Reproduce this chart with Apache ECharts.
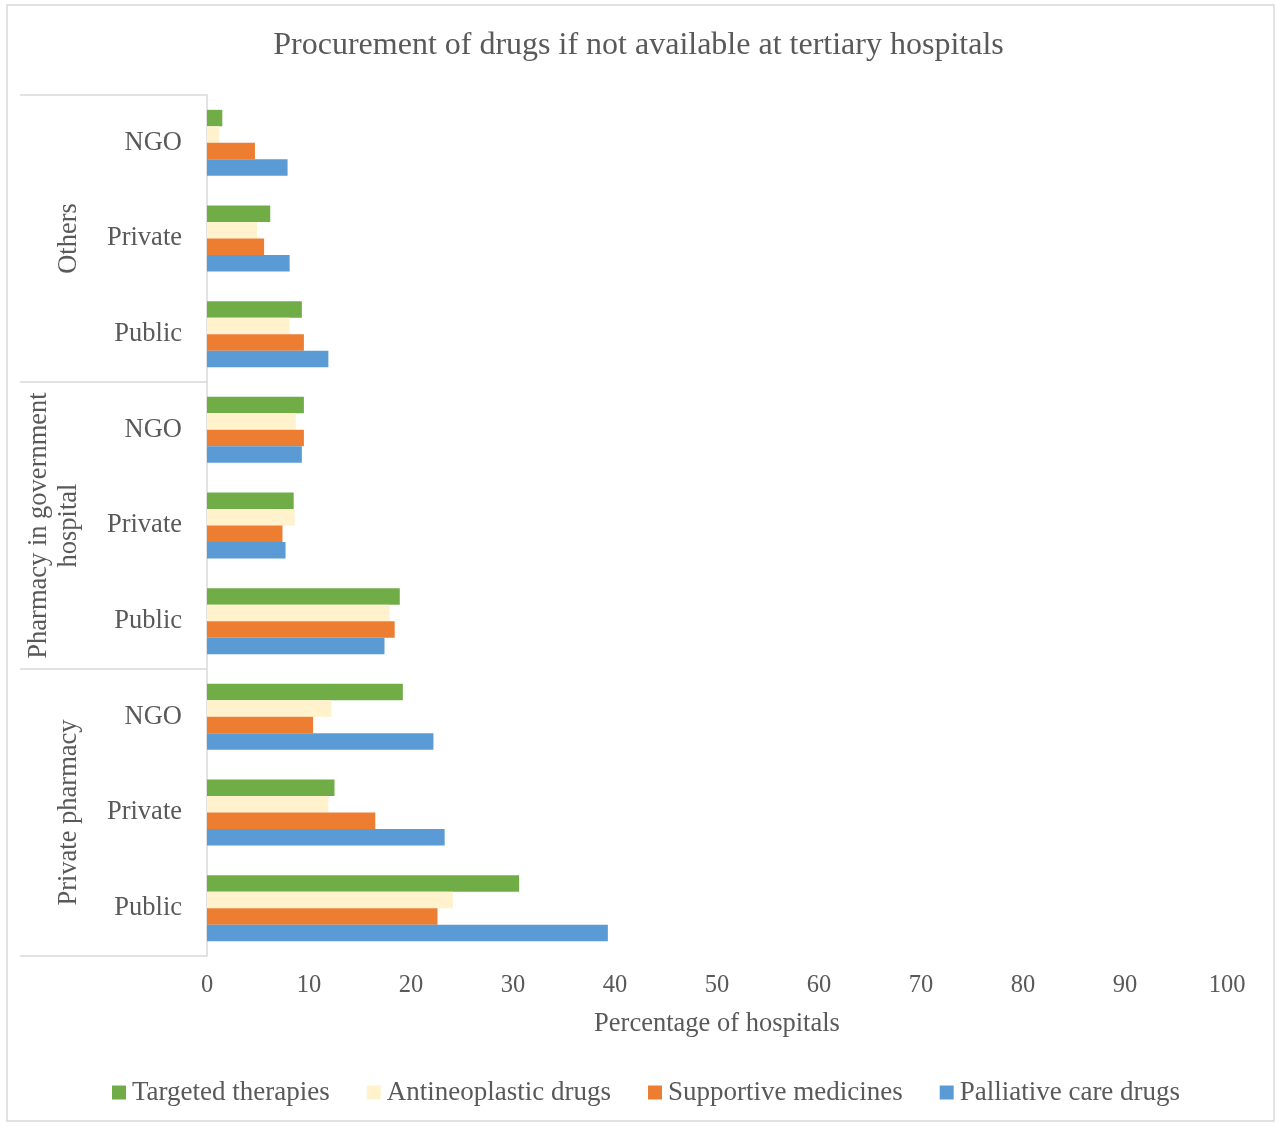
<!DOCTYPE html>
<html>
<head>
<meta charset="utf-8">
<script src="https://cdn.jsdelivr.net/npm/echarts@6/dist/echarts.min.js"></script>
<style>
html,body{margin:0;padding:0;background:#fff;}
#chart{width:1277px;height:1126px;}
</style>
</head>
<body>
<div id="chart"></div>
<script>
// Categories listed bottom to top
const subCategories = ['Public', 'Private', 'NGO', 'Public', 'Private', 'NGO', 'Public', 'Private', 'NGO'];
const groupCategories = ['Private pharmacy', 'Pharmacy in government\nhospital', 'Others'];
// Series listed in legend order (top bar to bottom bar within each category)
const seriesNames = ['Targeted therapies', 'Antineoplastic drugs', 'Supportive medicines', 'Palliative care drugs'];
const targeted = [30.6, 12.5, 19.2, 18.9, 8.5, 9.5, 9.3, 6.2, 1.5];
const antineoplastic = [24.1, 11.9, 12.2, 17.9, 8.6, 8.7, 8.1, 4.9, 1.2];
const supportive = [22.6, 16.5, 10.4, 18.4, 7.4, 9.5, 9.5, 5.6, 4.7];
const palliative = [39.3, 23.3, 22.2, 17.4, 7.7, 9.3, 11.9, 8.1, 7.9];
const xTicks = [0, 10, 20, 30, 40, 50, 60, 70, 80, 90, 100];

const FONT = 'Liberation Serif';
const TXT = '#595959';
const LINE = '#D9D9D9';
const colors = ['#70AD47', '#FFF2CC', '#ED7D31', '#5B9BD5'];
const values = [targeted, antineoplastic, supportive, palliative];

const chart = echarts.init(document.getElementById('chart'), null, {renderer: 'canvas'});
chart.setOption({
  animation: false,
  backgroundColor: '#fff',
  textStyle: {fontFamily: FONT, color: TXT},
  title: {
    text: 'Procurement of drugs if not available at tertiary hospitals',
    left: 'center',
    top: 25,
    textStyle: {fontFamily: FONT, fontSize: 32, fontWeight: 'normal', color: TXT}
  },
  graphic: [{
    type: 'rect',
    shape: {x: 7, y: 5, width: 1267, height: 1116},
    style: {fill: 'none', stroke: LINE, lineWidth: 1.5},
    silent: true
  }],
  legend: {
    data: seriesNames,
    bottom: 15,
    left: 107,
    itemWidth: 14,
    itemHeight: 14,
    itemGap: 37,
    icon: 'rect',
    textStyle: {fontFamily: FONT, fontSize: 27, color: TXT, padding: [0, 0, 0, 1]}
  },
  grid: {left: 207, right: 50, top: 95, bottom: 170, containLabel: false},
  xAxis: {
    type: 'value',
    min: xTicks[0],
    max: xTicks[xTicks.length - 1],
    interval: 10,
    name: 'Percentage of hospitals',
    nameLocation: 'middle',
    nameGap: 55,
    nameTextStyle: {fontFamily: FONT, fontSize: 26.5, color: TXT},
    axisLine: {show: false},
    axisTick: {show: false},
    splitLine: {show: false},
    axisLabel: {fontFamily: FONT, fontSize: 24.5, color: TXT, margin: 17}
  },
  yAxis: [{
    type: 'category',
    data: subCategories,
    position: 'left',
    axisLine: {show: true, lineStyle: {color: LINE, width: 1.5}},
    axisTick: {show: false},
    axisLabel: {fontFamily: FONT, fontSize: 26.5, color: TXT, margin: 25, interval: 0}
  }, {
    type: 'category',
    data: groupCategories,
    position: 'left',
    offset: 0,
    axisLine: {show: false},
    axisTick: {show: true, length: 187, lineStyle: {color: LINE, width: 1.5}},
    axisLabel: {
      fontFamily: FONT, fontSize: 26.5, color: TXT, interval: 0,
      rotate: 90, margin: 123, align: 'center', verticalAlign: 'bottom', lineHeight: 30
    }
  }],
  series: seriesNames.map((n, i) => ({
    name: n,
    type: 'bar',
    yAxisIndex: 0,
    data: values[i],
    barGap: '0%',
    barCategoryGap: '31%',
    itemStyle: {color: colors[i]}
  }))
});
</script>
</body>
</html>
